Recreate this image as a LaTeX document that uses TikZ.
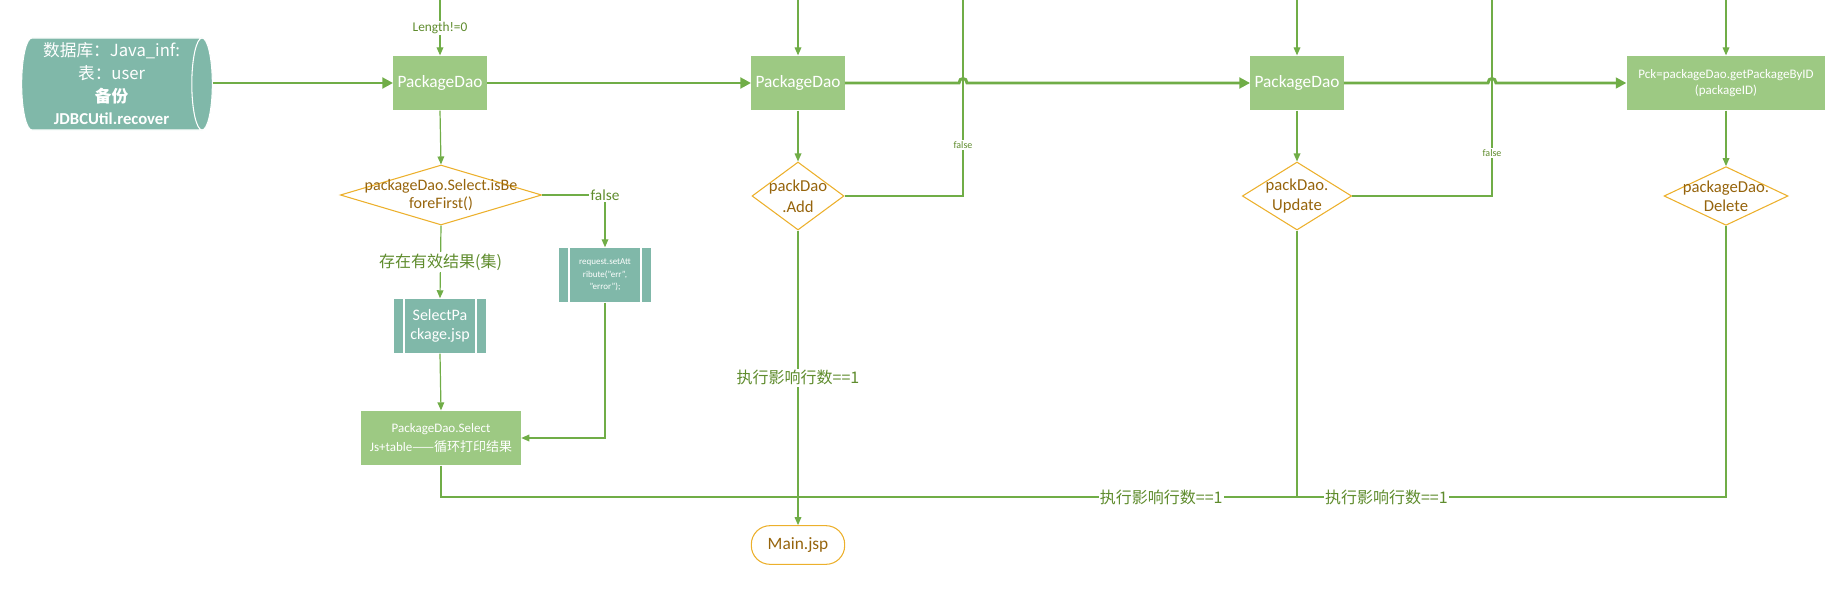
\documentclass[tikz,border=0pt]{standalone}
\usepackage{fontspec}
\setmainfont{Carlito}
\newfontfamily\cjk{Noto Sans CJK SC}
\usetikzlibrary{shapes.geometric,arrows.meta}
\definecolor{flowgreen}{RGB}{112,173,71}
\definecolor{boxgreen}{RGB}{157,201,131}
\definecolor{tealbox}{RGB}{128,184,169}
\definecolor{decborder}{RGB}{236,176,44}
\definecolor{dectext}{RGB}{150,100,12}
\definecolor{labelgreen}{RGB}{95,140,45}
\tikzset{
  procbox/.style={rectangle, fill=boxgreen, text=white, align=center, inner sep=1pt,
    minimum width=70pt, minimum height=41pt, font=\fontsize{13}{15}\selectfont},
  subbox/.style={procbox, fill=tealbox, draw=white, line width=0.6pt,
    path picture={\draw[white, line width=0.8pt]
      ([xshift=8pt]path picture bounding box.north west) -- ([xshift=8pt]path picture bounding box.south west)
      ([xshift=-8pt]path picture bounding box.north east) -- ([xshift=-8pt]path picture bounding box.south east);}},
  decbox/.style={diamond, draw=decborder, line width=0.8pt, text=dectext, align=center,
    inner sep=-100pt, font=\fontsize{12.5}{15.5}\selectfont},
  endbox/.style={rectangle, rounded corners=14pt, draw=decborder, line width=0.8pt, text=dectext,
    minimum width=70pt, minimum height=29pt, font=\fontsize{13}{15}\selectfont},
  dbstore/.style={cylinder, shape aspect=0.25, cylinder uses custom fill,
    cylinder body fill=tealbox, cylinder end fill=tealbox, draw=white, line width=0.8pt,
    text=white, align=center, inner sep=0pt, minimum width=69pt, minimum height=143pt,
    font=\fontsize{12.5}{17}\selectfont},
  flow/.style={flowgreen, line width=0.9pt, -{Triangle[length=6pt,width=5pt]}},
  mainflow/.style={flowgreen, line width=2.2pt, -{Triangle[length=8pt,width=8pt]}},
  link/.style={flowgreen, line width=0.9pt},
  edgetag/.style={fill=white, text=labelgreen, inner sep=1pt, font=\fontsize{12}{14}\selectfont},
  smalltag/.style={edgetag, font=\fontsize{7.5}{9}\selectfont},
}
\begin{document}
\begin{tikzpicture}[x=0.75pt, y=-0.75pt]
  \useasboundingbox (0,0) rectangle (1839,592);
  % source and top row
  \node[dbstore, anchor=shape center] (db) at (117,84)
    {\cjk 数据库：Java\_inf:\\ \cjk 表：user\\ \cjk\bfseries 备份\\ \bfseries JDBCUtil.recover};
  \node[procbox] (pdA) at (440,83) {PackageDao};
  \node[procbox] (pdB) at (798,83) {PackageDao};
  \node[procbox] (pdC) at (1297,83) {PackageDao};
  \node[procbox, minimum width=149pt, font=\fontsize{9.75}{12}\selectfont] (pck) at (1726,83)
    {Pck=packageDao.getPackageByID\\(packageID)};
  % decisions
  \node[decbox, minimum width=151pt, minimum height=45pt, font=\fontsize{12}{13.5}\selectfont] (isBF) at (441,195)
    {packageDao.Select.isBe\\foreFirst()};
  \node[decbox, minimum width=69pt, minimum height=51pt] (addD) at (798,196) {packDao\\.Add};
  \node[decbox, minimum width=82pt, minimum height=51pt] (updD) at (1297,196) {packDao.\\Update};
  \node[decbox, minimum width=93pt, minimum height=44pt, font=\fontsize{12.5}{14}\selectfont] (delD) at (1726,196)
    {packageDao.\\Delete};
  % select branch
  \node[subbox, font=\fontsize{6.75}{9.5}\selectfont] (reqErr) at (605,275)
    {request.setAtt\\ribute("err",\\"error");};
  \node[subbox, font=\fontsize{12}{14}\selectfont] (selJsp) at (440,326) {SelectPa\\ckage.jsp};
  \node[procbox, minimum width=120pt, font=\fontsize{9.75}{14}\selectfont] (selTable) at (441,438)
    {PackageDao.Select\\Js+table{\cjk ——循环打印结果}};
  \node[endbox] (mainJsp) at (798,545) {Main.jsp};
  % loose ends
  \coordinate (topA) at (440,0);
  \coordinate (topB) at (798,0);
  \coordinate (topC) at (1297,0);
  \coordinate (topD) at (1726,0);
  \coordinate (falseB) at (963,0);
  \coordinate (falseC) at (1492,0);
  \coordinate (jn) at (798,497);

  % main row
  \draw[mainflow] (db.east |- pdA.west) -- (pdA.west);
  \draw[mainflow] (pdA.east) -- (pdB.west);
  \draw[mainflow] (pdB.east) -- (959,83) .. controls (959,77) and (967,77) .. (967,83) -- (pdC.west);
  \draw[mainflow] (pdC.east) -- (1488,83) .. controls (1488,77) and (1496,77) .. (1496,83) -- (pck.west);
  % from above
  \draw[flow] (topA) -- node[edgetag, font=\fontsize{10}{12}\selectfont] {Length!=0} (pdA.north);
  \draw[flow] (topB) -- (pdB.north);
  \draw[flow] (topC) -- (pdC.north);
  \draw[flow] (topD) -- (pck.north);
  % down to decisions
  \draw[flow] (pdA.south) -- (isBF.north);
  \draw[flow] (pdB.south) -- (addD.north);
  \draw[flow] (pdC.south) -- (updD.north);
  \draw[flow] (pck.south) -- (delD.north);
  % select
  \draw[flow] (isBF.east) -| node[edgetag, font=\fontsize{11.5}{13}\selectfont] {false} (reqErr.north);
  \draw[flow] (isBF.south) -- node[edgetag] {\cjk 存在有效结果(集)} (selJsp.north);
  \draw[flow] (selJsp.south) -- (selTable.north);
  \draw[flow] (reqErr.south) |- (selTable.east);
  \draw[link] (selTable.south) |- (jn);
  % false loops
  \draw[link] (addD.east) -| node[smalltag, pos=0.63] {false} (falseB);
  \draw[link] (updD.east) -| node[smalltag, pos=0.61] {false} (falseC);
  % results
  \draw[link] (delD.south) |- node[edgetag, pos=0.683] {\cjk 执行影响行数==1} (jn);
  \draw[link] (updD.south) |- node[edgetag, pos=0.636] {\cjk 执行影响行数==1} (jn);
  \draw[flow] (addD.south) -- node[edgetag] {\cjk 执行影响行数==1} (mainJsp.north);
\end{tikzpicture}
\end{document}
